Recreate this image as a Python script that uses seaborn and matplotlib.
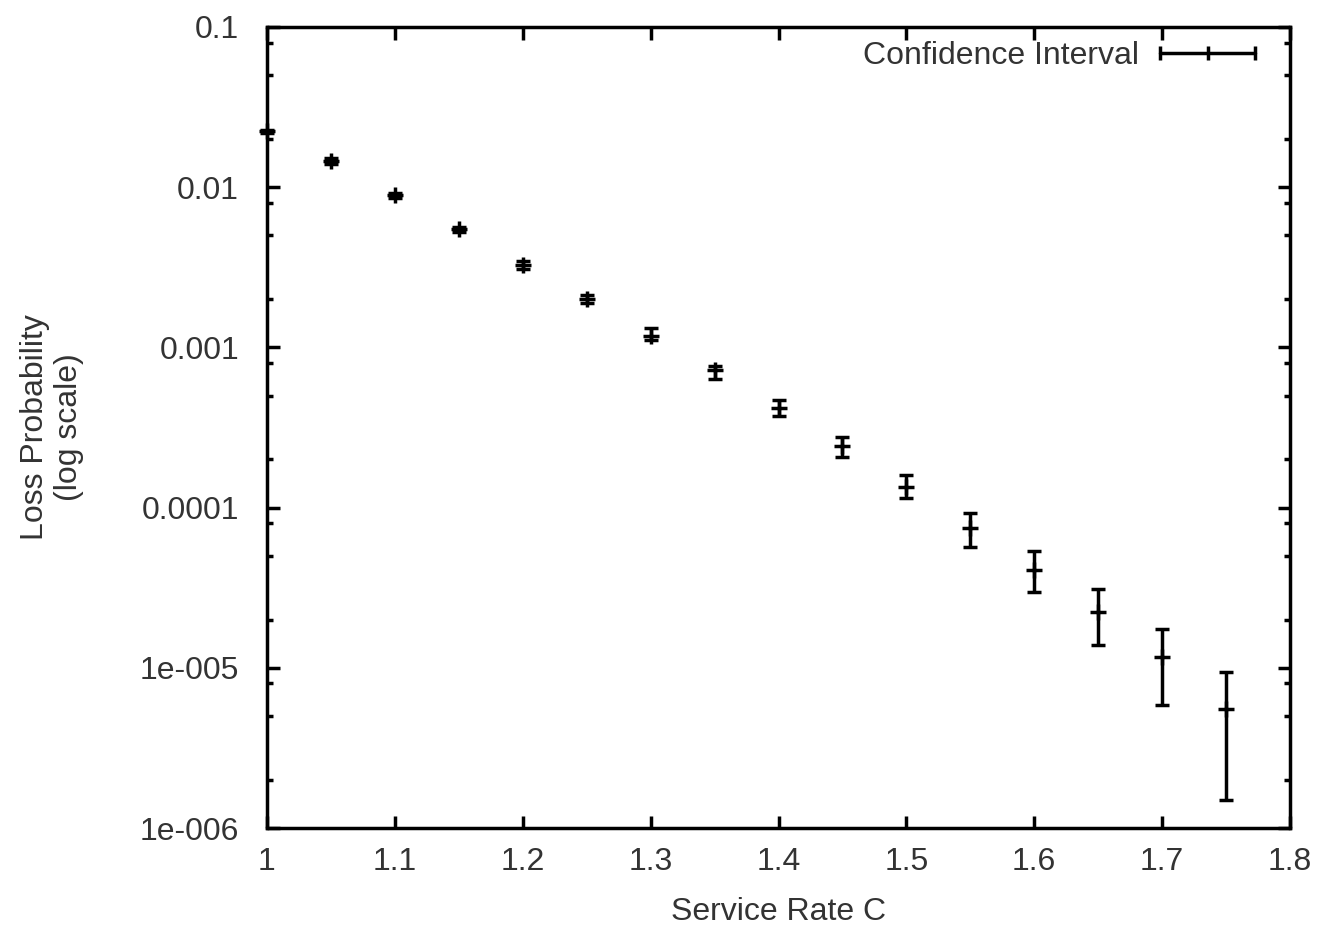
import numpy as np
import pandas as pd
import matplotlib
matplotlib.use("Agg")
import matplotlib.pyplot as plt
import seaborn as sns
from matplotlib.lines import Line2D
from matplotlib.ticker import LogLocator, NullFormatter

# service rate C
rate = [1.0, 1.05, 1.1, 1.15, 1.2, 1.25, 1.3, 1.35, 1.4, 1.45, 1.5, 1.55, 1.6, 1.65, 1.7, 1.75]
# estimated loss probability (centre of interval)
loss = [0.02233, 0.01451, 0.00888, 0.00548, 0.00327, 0.00200, 0.00118, 7.23e-4,
        4.20e-4, 2.42e-4, 1.35e-4, 7.43e-5, 4.07e-5, 2.24e-5, 1.17e-5, 5.53e-6]
# confidence interval bounds
loss_lo = [0.02185, 0.01390, 0.00856, 0.00529, 0.00309, 0.00189, 0.00111, 6.39e-4,
           3.75e-4, 2.06e-4, 1.14e-4, 5.65e-5, 2.96e-5, 1.39e-5, 5.86e-6, 1.50e-6]
loss_hi = [0.02282, 0.01515, 0.00920, 0.00568, 0.00346, 0.00212, 0.00132, 7.60e-4,
           4.70e-4, 2.75e-4, 1.59e-4, 9.20e-5, 5.38e-5, 3.10e-5, 1.74e-5, 9.46e-6]

xtick_vals = [1.0, 1.1, 1.2, 1.3, 1.4, 1.5, 1.6, 1.7, 1.8]
xtick_labels = ['1', '1.1', '1.2', '1.3', '1.4', '1.5', '1.6', '1.7', '1.8']
ytick_vals = [0.1, 0.01, 0.001, 0.0001, 1e-5, 1e-6]
ytick_labels = ['0.1', '0.01', '0.001', '0.0001', '1e-005', '1e-006']

df = pd.DataFrame({'rate': rate, 'loss': loss, 'lo': loss_lo, 'hi': loss_hi})

sns.set_style("ticks")
plt.rcParams['font.family'] = ['Liberation Sans', 'DejaVu Sans']
txt = '#333333'
fs = 23
lw = 2.5

fig = plt.figure(figsize=(13.25, 9.31), dpi=100)
ax = fig.add_axes([267/1325, 1 - 828/931, 1023/1325, 801/931])

yerr = [df['loss'] - df['lo'], df['hi'] - df['loss']]
ax.errorbar(df['rate'], df['loss'], yerr=yerr, fmt='none', ecolor='black',
            elinewidth=lw, capsize=5.2, capthick=lw, clip_on=False, zorder=3)
sns.scatterplot(data=df, x='rate', y='loss', marker='+', s=130, color='black',
                linewidth=lw, ax=ax, zorder=4, clip_on=False, legend=False)

ax.set_yscale('log')
ax.set_xlim(1.0, 1.8)
ax.set_ylim(1e-6, 0.1)
ax.set_xticks(xtick_vals, xtick_labels)
ax.set_yticks(ytick_vals, ytick_labels)
ax.yaxis.set_minor_locator(LogLocator(base=10, subs=(2, 5, 8)))
ax.yaxis.set_minor_formatter(NullFormatter())

ax.tick_params(which='both', direction='in', top=True, right=True, color='black')
ax.tick_params(which='major', length=9, width=lw)
ax.tick_params(which='minor', length=4, width=lw)
ax.tick_params(axis='x', which='major', pad=14, labelsize=fs, labelcolor=txt)
ax.tick_params(axis='y', which='major', pad=20, labelsize=fs, labelcolor=txt)
for sp in ax.spines.values():
    sp.set_linewidth(lw)
    sp.set_color('black')

ax.set_xlabel('Service Rate C', fontsize=fs, color=txt, labelpad=14)
ax.set_ylabel('Loss Probability\n(log scale)', fontsize=fs, color=txt, linespacing=1.15)
ax.yaxis.set_label_coords(-0.179, 0.5)

handle = Line2D([], [], color='black', lw=lw, marker='|', markersize=10, markeredgewidth=lw)
ax.legend([handle], ['Confidence Interval'], loc='upper right', bbox_to_anchor=(0.9756, 0.9825),
          frameon=False, fontsize=fs, labelcolor=txt, numpoints=3, handlelength=3.6,
          markerfirst=False, handletextpad=0.35, borderpad=0.0, borderaxespad=0.0)

plt.savefig('out.png', dpi=100)
